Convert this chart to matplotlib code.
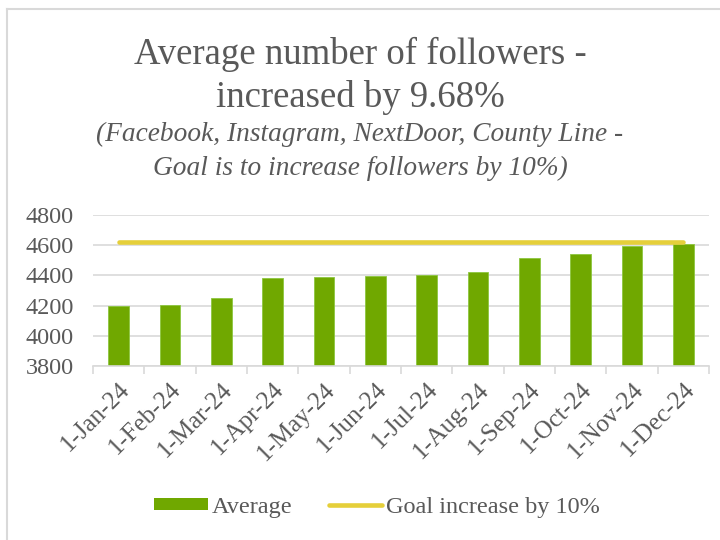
import matplotlib
matplotlib.use("Agg")
import matplotlib.pyplot as plt
from matplotlib.lines import Line2D
from matplotlib.patches import Patch

months = ['1-Jan-24', '1-Feb-24', '1-Mar-24', '1-Apr-24', '1-May-24', '1-Jun-24',
          '1-Jul-24', '1-Aug-24', '1-Sep-24', '1-Oct-24', '1-Nov-24', '1-Dec-24']
average = [4200, 4207, 4250, 4384, 4388, 4398, 4402, 4424, 4516, 4540, 4596, 4607]
goal = [4620] * 12

green = '#70A800'
yellow = '#E5CF3A'
grey_txt = '#595959'
grid_c = '#D9D9D9'

plt.rcParams['font.family'] = ['Liberation Serif', 'DejaVu Serif']

fig = plt.figure(figsize=(7.2, 5.4), dpi=100)
ax = fig.add_axes([93/720, 1 - 366/540, 616/720, 151/540])

x = range(len(months))
ax.bar(x, average, width=0.4, color=green, edgecolor='#8CC63F', linewidth=0.6, zorder=2)
ax.plot(x, goal, color=yellow, lw=3.3, solid_capstyle='round', zorder=3)

ax.set_ylim(3800, 4800)
ax.set_xlim(-0.5, 11.5)
ax.set_yticks(range(3800, 4801, 200))
ax.yaxis.grid(True, color=grid_c, lw=1.2, zorder=0)
ax.set_axisbelow(True)
for s in ['top', 'right', 'left']:
    ax.spines[s].set_visible(False)
ax.spines['bottom'].set_color(grid_c)
ax.spines['bottom'].set_linewidth(1.2)

# tick marks between categories, labels at category centres
ax.set_xticks([i - 0.5 for i in range(13)])
ax.set_xticklabels([])
ax.tick_params(axis='x', which='major', length=6, color=grid_c, width=1.2)
ax.set_xticks(list(x), minor=True)
ax.set_xticklabels(months, minor=True, rotation=45, ha='right', rotation_mode='anchor',
                   fontsize=18, color=grey_txt)
ax.tick_params(axis='x', which='minor', length=0, pad=9)
ax.tick_params(axis='y', length=0, pad=14, labelsize=17.5, labelcolor=grey_txt)

fig.text(0.5, 1 - 64/540, 'Average number of followers -', ha='center', va='baseline',
         fontsize=26.5, color=grey_txt)
fig.text(0.5, 1 - 107/540, 'increased by 9.68%', ha='center', va='baseline',
         fontsize=26.5, color=grey_txt)
fig.text(0.5, 1 - 141/540, '(Facebook, Instagram, NextDoor, County Line -', ha='center',
         va='baseline', fontsize=19.7, style='italic', color=grey_txt)
fig.text(0.5, 1 - 175/540, 'Goal is to increase followers by 10%)', ha='center',
         va='baseline', fontsize=19.7, style='italic', color=grey_txt)

handles = [Patch(facecolor=green, edgecolor='none'),
           Line2D([0], [0], color=yellow, lw=3.3, solid_capstyle='round')]
fig.legend(handles, ['Average', 'Goal increase by 10%'], loc='center',
           bbox_to_anchor=(377/720, 1 - 507/540), ncol=2, frameon=False,
           fontsize=17.5, labelcolor=grey_txt, handlelength=2.2, handleheight=0.42,
           handletextpad=0.15, columnspacing=1.5)

# chart border (left and top edges visible)
fig.add_artist(Line2D([7/720, 7/720], [0, 1 - 9/540], color=grid_c, lw=1.5))
fig.add_artist(Line2D([7/720, 1], [1 - 9/540, 1 - 9/540], color=grid_c, lw=1.5))

fig.savefig('out.png', dpi=100)
